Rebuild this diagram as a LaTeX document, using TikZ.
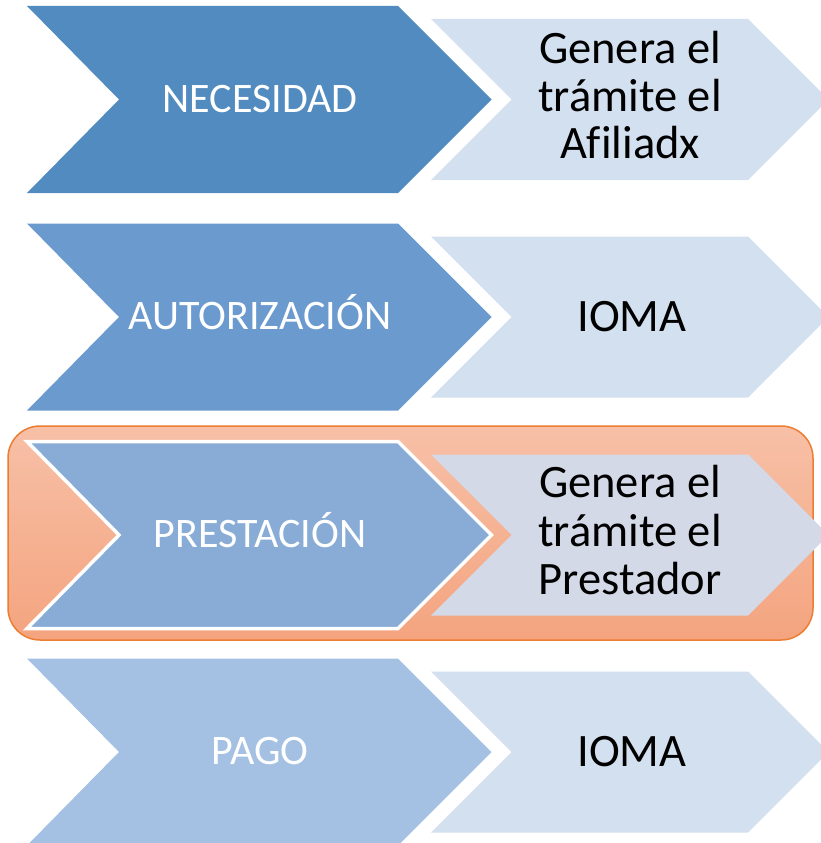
\documentclass[tikz,border=0pt]{standalone}
\usepackage{fontspec}
\setmainfont{Carlito}[Ligatures=NoCommon]
\definecolor{cA}{HTML}{518BBF}
\definecolor{cB}{HTML}{6A9ACE}
\definecolor{cC}{HTML}{88ACD6}
\definecolor{cD}{HTML}{A4C0E3}
\definecolor{cR}{HTML}{D3E0F0}
\definecolor{cRh}{HTML}{D3D9E7}
\definecolor{orLine}{HTML}{ED7D31}
\definecolor{orTop}{HTML}{F7C0A7}
\definecolor{orBot}{HTML}{F4A47F}
\begin{document}
\begin{tikzpicture}[x=1pt,y=-1pt,
  lefttxt/.style={text=white,font=\fontsize{42}{48}\selectfont,align=center,inner sep=0pt,text height=27pt,text depth=0pt},
  righttxt/.style={text=black,font=\fontsize{46.5}{47.5}\selectfont,align=center,inner sep=0pt},
  onetxt/.style={righttxt,text height=30pt,text depth=0pt},
  hl/.style={draw=white,line width=3.5pt,line join=miter}
]
\useasboundingbox (0,0) rectangle (821,843);
\clip (0,0) rectangle (821,843);
% highlight box
\path[draw=orLine,line width=1.5pt,top color=orTop,bottom color=orBot,rounded corners=32pt]
  (8,426) rectangle (813,640);
% rows
\foreach \c/\lc/\rc/\ex in {99.5/cA/cR/{}, 317/cB/cR/{}, 535/cC/cRh/hl, 752/cD/cR/{}}{
  \path[fill=\rc] (431,\c-80.5) -- (748,\c-80.5) -- (828.5,\c) -- (748,\c+80.5) -- (431,\c+80.5) -- (511.5,\c) -- cycle;
  \path[fill=\lc,\ex] (27,\c-93.5) -- (398,\c-93.5) -- (491.5,\c) -- (398,\c+93.5) -- (27,\c+93.5) -- (119,\c) -- cycle;
}
\node[lefttxt] (n1) at (260,98.5) {NECESIDAD};
\node[righttxt,anchor=south,text depth=0pt] (r1) at (630,159) {Genera el\\trámite el\\Afiliadx};
\node[lefttxt] (n2) at (260,316) {AUTORIZACIÓN};
\node[onetxt] (r2) at (632,316) {IOMA};
\node[lefttxt] (n3) at (260,533.5) {PRESTACIÓN};
\node[righttxt,anchor=south,text depth=0pt,font=\fontsize{46.5}{48.5}\selectfont] (r3) at (630,595) {Genera el\\trámite el\\Prestador};
\node[lefttxt] (n4) at (260,750.5) {PAGO};
\node[onetxt] (r4) at (632,751) {IOMA};
\end{tikzpicture}
\end{document}
